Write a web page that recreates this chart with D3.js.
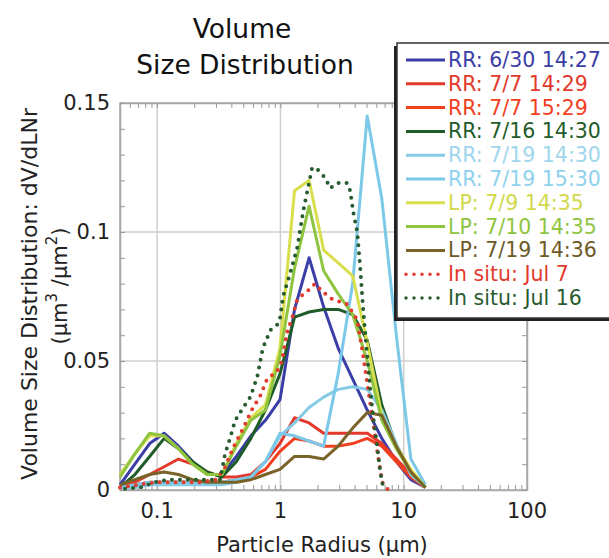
<!DOCTYPE html>
<html>
<head>
<meta charset="utf-8">
<script src="https://cdn.jsdelivr.net/npm/d3@7"></script>
<style>
  html, body { margin: 0; background: #fff; overflow: hidden; }
  svg { display: block; }
  text { font-family: "DejaVu Sans", sans-serif; }
</style>
</head>
<body>
<svg id="chart"></svg>
<script>
// AERONET style radius bins (um)
var radii = [0.050, 0.066, 0.087, 0.114, 0.149, 0.194, 0.255, 0.335, 0.439, 0.576, 0.756,
             0.992, 1.302, 1.708, 2.241, 2.940, 3.857, 5.061, 6.641, 8.713, 11.432, 15.000];

var rr0630_1427 = [0.002, 0.010, 0.018, 0.022, 0.017, 0.011, 0.006, 0.006, 0.013, 0.021, 0.027, 0.035, 0.070, 0.090, 0.071, 0.055, 0.043, 0.031, 0.020, 0.011, 0.004, 0.001];
var rr0707_1429 = [0.001, 0.003, 0.006, 0.009, 0.012, 0.010, 0.007, 0.005, 0.005, 0.006, 0.011, 0.018, 0.028, 0.026, 0.022, 0.022, 0.022, 0.022, 0.018, 0.012, 0.006, 0.001];
var rr0707_1529 = [0.001, 0.002, 0.003, 0.003, 0.003, 0.003, 0.003, 0.003, 0.004, 0.005, 0.008, 0.015, 0.020, 0.019, 0.017, 0.017, 0.018, 0.020, 0.017, 0.011, 0.005, 0.001];
var rr0716_1430 = [0.001, 0.006, 0.013, 0.020, 0.016, 0.011, 0.007, 0.005, 0.011, 0.020, 0.031, 0.045, 0.067, 0.069, 0.070, 0.070, 0.068, 0.058, 0.033, 0.017, 0.007, 0.001];
var rr0719_1430 = [0.001, 0.001, 0.002, 0.002, 0.002, 0.002, 0.002, 0.002, 0.003, 0.005, 0.011, 0.021, 0.026, 0.032, 0.036, 0.039, 0.040, 0.039, 0.031, 0.018, 0.006, 0.001];
var rr0719_1530 = [0.001, 0.002, 0.003, 0.003, 0.003, 0.003, 0.003, 0.003, 0.004, 0.005, 0.011, 0.022, 0.021, 0.019, 0.017, 0.045, 0.080, 0.145, 0.113, 0.060, 0.012, 0.002];
var lp0709_1435 = [0.006, 0.014, 0.021, 0.021, 0.016, 0.010, 0.006, 0.006, 0.018, 0.028, 0.033, 0.055, 0.116, 0.120, 0.093, 0.088, 0.083, 0.057, 0.029, 0.017, 0.008, 0.001];
var lp0710_1435 = [0.005, 0.014, 0.022, 0.021, 0.016, 0.010, 0.006, 0.006, 0.017, 0.027, 0.031, 0.052, 0.086, 0.110, 0.085, 0.076, 0.068, 0.050, 0.027, 0.016, 0.007, 0.001];
var lp0719_1436 = [0.002, 0.004, 0.006, 0.007, 0.006, 0.004, 0.003, 0.003, 0.003, 0.004, 0.006, 0.008, 0.013, 0.013, 0.012, 0.017, 0.024, 0.030, 0.029, 0.017, 0.007, 0.001];

// in situ measurements, own radius grid
var insituJul7R = [0.05, 0.07, 0.1, 0.15, 0.22, 0.3, 0.35, 0.41, 0.5, 0.6, 0.68, 0.78, 0.94, 1.03, 1.13, 1.27, 1.37, 1.65, 1.91, 2.18, 2.63, 3.48, 4.2, 4.69, 5.15, 5.66, 6.1, 6.7, 7.5];
var insituJul7V = [0.001, 0.002, 0.003, 0.003, 0.003, 0.004, 0.008, 0.016, 0.024, 0.032, 0.036, 0.043, 0.046, 0.050, 0.061, 0.068, 0.074, 0.077, 0.080, 0.077, 0.074, 0.072, 0.066, 0.052, 0.039, 0.026, 0.015, 0.003, 0.0];
var insituJul16R = [0.055, 0.073, 0.096, 0.123, 0.153, 0.223, 0.324, 0.356, 0.39, 0.43, 0.50, 0.57, 0.65, 0.72, 0.83, 0.94, 0.99, 1.05, 1.2, 1.37, 1.53, 1.74, 1.81, 2.02, 2.31, 2.53, 2.94, 3.48, 3.68, 3.89, 4.2, 4.44, 4.69, 5.06, 5.35, 5.66, 6.1, 6.45, 6.82];
var insituJul16V = [0.0005, 0.001, 0.003, 0.004, 0.004, 0.004, 0.004, 0.014, 0.020, 0.027, 0.032, 0.036, 0.044, 0.055, 0.062, 0.064, 0.066, 0.075, 0.084, 0.094, 0.108, 0.121, 0.125, 0.124, 0.121, 0.117, 0.119, 0.119, 0.116, 0.108, 0.100, 0.086, 0.070, 0.052, 0.039, 0.028, 0.017, 0.007, 0.001];

var seriesNames = ["RR: 6/30 14:27", "RR: 7/7 14:29", "RR: 7/7 15:29", "RR: 7/16 14:30", "RR: 7/19 14:30",
                   "RR: 7/19 15:30", "LP: 7/9 14:35", "LP: 7/10 14:35", "LP: 7/19 14:36", "In situ: Jul 7", "In situ: Jul 16"];
var seriesColors = ["#3a3ea6", "#e2392b", "#f2401f", "#1f5c2a", "#86cbe6", "#7cc8e8", "#d9df4c", "#8fc440", "#7a6328", "#e23a2c", "#275c30"];
var textColors = ["#3a3ea6", "#e2392b", "#f2401f", "#1f5c2a", "#9fd6ee", "#8fd2ee", "#d2d84a", "#8fc440", "#6e5a26", "#e23a2c", "#275c30"];

var series = [
  {name: seriesNames[0], r: radii, v: rr0630_1427, dotted: false},
  {name: seriesNames[1], r: radii, v: rr0707_1429, dotted: false},
  {name: seriesNames[2], r: radii, v: rr0707_1529, dotted: false},
  {name: seriesNames[3], r: radii, v: rr0716_1430, dotted: false},
  {name: seriesNames[4], r: radii, v: rr0719_1430, dotted: false},
  {name: seriesNames[5], r: radii, v: rr0719_1530, dotted: false},
  {name: seriesNames[6], r: radii, v: lp0709_1435, dotted: false},
  {name: seriesNames[7], r: radii, v: lp0710_1435, dotted: false},
  {name: seriesNames[8], r: radii, v: lp0719_1436, dotted: false},
  {name: seriesNames[9], r: insituJul7R, v: insituJul7V, dotted: true},
  {name: seriesNames[10], r: insituJul16R, v: insituJul16V, dotted: true}
];

var xTicks = [0.1, 1, 10, 100];
var yTicks = [0, 0.05, 0.1, 0.15];

var width = 609, height = 558;
var plot = {left: 120, right: 527, top: 103, bottom: 490};

var svg = d3.select("#chart").attr("width", width).attr("height", height);
svg.append("rect").attr("width", width).attr("height", height).attr("fill", "#fff");

var x = d3.scaleLog().domain([0.05, 100]).range([plot.left, plot.right]);
var y = d3.scaleLinear().domain([0, 0.15]).range([plot.bottom, plot.top]);

// grid
var grid = svg.append("g");
grid.selectAll(".vg").data([0.1, 1, 10]).enter().append("line")
    .attr("x1", function(d) { return x(d); }).attr("x2", function(d) { return x(d); })
    .attr("y1", plot.top).attr("y2", plot.bottom)
    .attr("stroke", "#cfcfcf").attr("stroke-width", 1.5);
grid.selectAll(".hg").data([0.05, 0.1]).enter().append("line")
    .attr("x1", plot.left).attr("x2", plot.right)
    .attr("y1", function(d) { return y(d); }).attr("y2", function(d) { return y(d); })
    .attr("stroke", "#cfcfcf").attr("stroke-width", 1.5);

// frame
svg.append("rect")
    .attr("x", plot.left).attr("y", plot.top)
    .attr("width", plot.right - plot.left).attr("height", plot.bottom - plot.top)
    .attr("fill", "none").attr("stroke", "#a8a8a8").attr("stroke-width", 1.5);

// axes with inner ticks
var minorX = x.ticks().filter(function(d) { return d >= 0.05 && d <= 100; });
var xb = svg.append("g").attr("transform", "translate(0," + plot.bottom + ")")
    .call(d3.axisBottom(x).tickValues(minorX).tickSizeInner(-5).tickSizeOuter(0).tickFormat(""));
var xt = svg.append("g").attr("transform", "translate(0," + plot.top + ")")
    .call(d3.axisTop(x).tickValues(minorX).tickSizeInner(-5).tickSizeOuter(0).tickFormat(""));
var minorY = d3.range(0, 0.1501, 0.01);
var yl = svg.append("g").attr("transform", "translate(" + plot.left + ",0)")
    .call(d3.axisLeft(y).tickValues(minorY).tickSizeInner(-5).tickSizeOuter(0).tickFormat(""));
var yr = svg.append("g").attr("transform", "translate(" + plot.right + ",0)")
    .call(d3.axisRight(y).tickValues(minorY).tickSizeInner(-5).tickSizeOuter(0).tickFormat(""));
[xb, xt, yl, yr].forEach(function(g) {
  g.select(".domain").attr("stroke", "#a8a8a8").attr("stroke-width", 1.5);
  g.selectAll(".tick line").attr("stroke", "#999");
});

// tick labels
svg.selectAll(".xlab").data(xTicks).enter().append("text")
    .attr("x", function(d) { return x(d); }).attr("y", 518)
    .attr("text-anchor", "middle").attr("font-size", 21).attr("fill", "#222")
    .text(function(d) { return d; });
svg.selectAll(".ylab").data(yTicks).enter().append("text")
    .attr("x", 110).attr("y", function(d) { return y(d) + 7; })
    .attr("text-anchor", "end").attr("font-size", 21).attr("fill", "#222")
    .text(function(d) { return d; });

// curves
var line = d3.line()
    .x(function(d) { return x(d[0]); })
    .y(function(d) { return y(d[1]); });

var curves = svg.append("g");
series.forEach(function(s, i) {
  var pts = s.r.map(function(r, j) { return [r, s.v[j]]; });
  var p = curves.append("path").datum(pts)
      .attr("d", line)
      .attr("fill", "none")
      .attr("stroke", seriesColors[i])
      .attr("stroke-linejoin", "round");
  if (s.dotted) {
    p.attr("stroke-width", 4).attr("stroke-dasharray", "0,8").attr("stroke-linecap", "round");
  } else {
    p.attr("stroke-width", 3);
  }
});

// titles
svg.append("text").attr("x", 242).attr("y", 38).attr("text-anchor", "middle")
    .attr("font-size", 26.5).attr("fill", "#111").text("Volume");
svg.append("text").attr("x", 245).attr("y", 74).attr("text-anchor", "middle")
    .attr("font-size", 26.5).attr("fill", "#111").text("Size Distribution");
svg.append("text").attr("x", 322).attr("y", 552).attr("text-anchor", "middle")
    .attr("font-size", 21).attr("fill", "#222").text("Particle Radius (\u03bcm)");

svg.append("text").attr("transform", "translate(37,294) rotate(-90)")
    .attr("text-anchor", "middle").attr("font-size", 22).attr("fill", "#222")
    .text("Volume Size Distribution: dV/dLNr");
var yl2 = svg.append("text").attr("transform", "translate(67,286) rotate(-90)")
    .attr("text-anchor", "middle").attr("font-size", 21).attr("fill", "#222");
yl2.append("tspan").text("(\u03bcm");
yl2.append("tspan").attr("dy", -10).attr("font-size", 15).text("3");
yl2.append("tspan").attr("dy", 10).text(" /\u03bcm");
yl2.append("tspan").attr("dy", -10).attr("font-size", 15).text("2");
yl2.append("tspan").attr("dy", 10).text(")");

// legend (runs off the right edge like the original)
var lg = svg.append("g");
lg.append("rect").attr("x", 394).attr("y", 46).attr("width", 320).attr("height", 275).attr("fill", "#222");
lg.append("rect").attr("x", 397).attr("y", 43).attr("width", 320).attr("height", 275)
    .attr("fill", "#fff").attr("stroke", "#333").attr("stroke-width", 1.5);
series.forEach(function(s, i) {
  var ly = 60 + i * 23.8;
  var l = lg.append("line").attr("x1", 406).attr("x2", 445).attr("y1", ly).attr("y2", ly)
      .attr("stroke", seriesColors[i]);
  if (s.dotted) {
    l.attr("stroke-width", 3.5).attr("stroke-dasharray", "0,8").attr("stroke-linecap", "round");
  } else {
    l.attr("stroke-width", 3);
  }
  lg.append("text").attr("x", 448).attr("y", ly + 7).attr("font-size", 20.5)
      .attr("fill", textColors[i]).text(s.name);
});
</script>
</body>
</html>
